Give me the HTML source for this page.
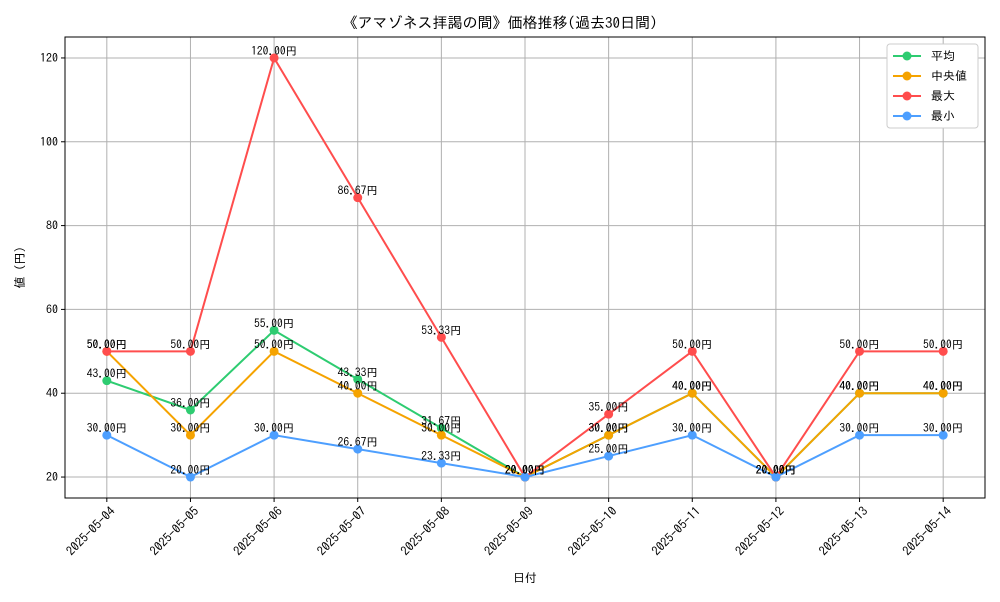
<!DOCTYPE html>
<html><head><meta charset="utf-8"><style>
body{margin:0;background:#fff;font-family:"IPAGothic","Noto Sans CJK JP",sans-serif;}
svg text{font-family:"IPAGothic","Noto Sans CJK JP",sans-serif;}
</style></head><body>
<svg id="c" width="1000" height="600" xmlns="http://www.w3.org/2000/svg"></svg>
<script>
const categories=["2025-05-04","2025-05-05","2025-05-06","2025-05-07","2025-05-08","2025-05-09","2025-05-10","2025-05-11","2025-05-12","2025-05-13","2025-05-14"];
const avgValues=[43,36,55,43.33,31.67,20,30,40,20,40,40];
const medianValues=[50,30,50,40,30,20,30,40,20,40,40];
const maxValues=[50,50,120,86.67,53.33,20,35,50,20,50,50];
const minValues=[30,20,30,26.67,23.33,20,25,30,20,30,30];
const yTicks=[20,40,60,80,100,120];
const seriesNames=["平均","中央値","最大","最小"];
const NS="http://www.w3.org/2000/svg";
const svg=document.getElementById('c');
const L=65,R=985,T=37,B=498;
const x=i=>L+(i+0.5)/11*(R-L);
const y=v=>B-(v-15)/110*(B-T);
function el(tag,a,txt){const e=document.createElementNS(NS,tag);for(const k in a)e.setAttribute(k,a[k]);if(txt!==undefined)e.textContent=txt;svg.appendChild(e);return e;}
let t=el('text',{x:500,y:28,'text-anchor':'middle','font-size':15},'《アマゾネス拝謁の間》価格推移(過去30日間)');

categories.forEach((c,i)=>{let g=el('line',{x1:x(i),x2:x(i),y1:T,y2:B,stroke:'#b0b0b0','stroke-width':1});

let tk=el('line',{x1:x(i),x2:x(i),y1:B,y2:B+4,stroke:'#000'});
const ax=x(i)+9,ay=B+14;
let lb=el('text',{x:ax,y:ay,'font-size':12.5,'text-anchor':'end',transform:`rotate(-45 ${ax} ${ay})`},c);
});
yTicks.forEach(v=>{let g=el('line',{x1:L,x2:R,y1:y(v),y2:y(v),stroke:'#b0b0b0','stroke-width':1});

let tk=el('line',{x1:L-4,x2:L,y1:y(v),y2:y(v),stroke:'#000'});
let lb=el('text',{x:L-7,y:y(v)+4,'font-size':12,'text-anchor':'end'},v);
});
let fr=el('rect',{x:L,y:T,width:R-L,height:B-T,fill:'none',stroke:'#000','stroke-width':1});

let xt=el('text',{x:(L+R)/2,y:582,'text-anchor':'middle','font-size':12},'日付');
let yt=el('text',{x:24,y:(T+B)/2,'text-anchor':'middle','font-size':12,transform:`rotate(-90 24 ${(T+B)/2})`},'値 (円)');
const series=[[avgValues,'#2ecc71'],[medianValues,'#f5a300'],[maxValues,'#ff4d4d'],[minValues,'#4d9fff']];
series.forEach(([vals,col],si)=>{
let pl=el('polyline',{points:vals.map((v,i)=>x(i)+','+y(v)).join(' '),fill:'none',stroke:col,'stroke-width':2});

vals.forEach((v,i)=>{let p=el('circle',{cx:x(i),cy:y(v),r:4.5,fill:col});
});});
series.forEach(([vals,col])=>{vals.forEach((v,i)=>{let l=el('text',{x:x(i),y:y(v)-3,'text-anchor':'middle','font-size':11.5},v.toFixed(2)+'円');
});});
let lg=el('rect',{x:887,y:44,width:91,height:84,fill:'#fff',stroke:'#ccc',rx:3});

series.forEach(([v,col],i)=>{const ly=56+i*20;
let ln=el('line',{x1:893,x2:921,y1:ly,y2:ly,stroke:col,'stroke-width':2});
let c=el('circle',{cx:907,cy:ly,r:4.5,fill:col});
let tx=el('text',{x:931,y:ly+4,'font-size':12},seriesNames[i]);});
</script>
</body></html>
